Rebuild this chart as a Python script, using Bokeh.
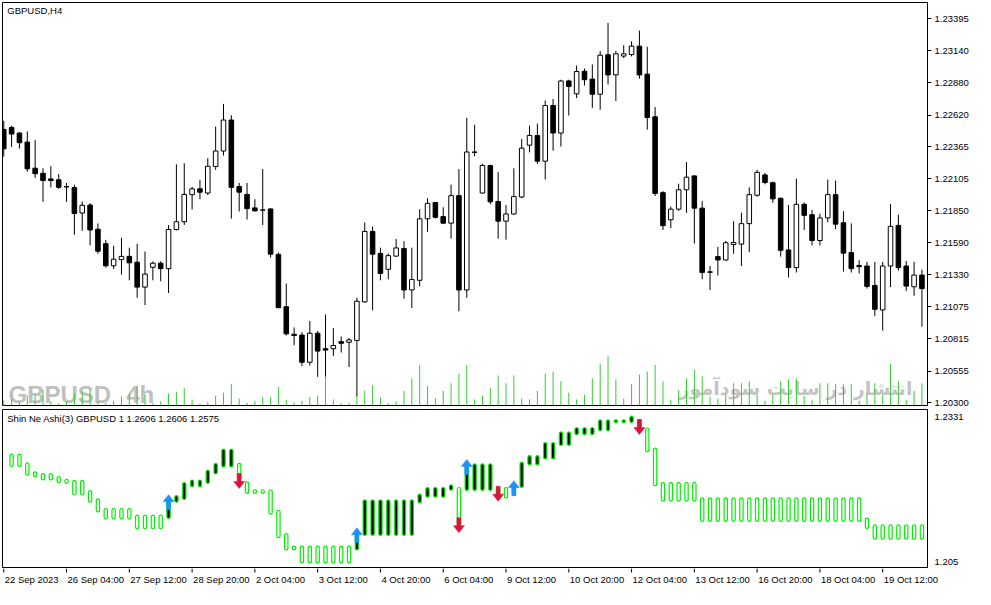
from bokeh.plotting import figure
from bokeh.models import Range1d, FixedTicker, PrintfTickFormatter, NumeralTickFormatter, Label
from bokeh.layouts import column
from bokeh.embed import file_html
from bokeh.resources import INLINE
from bokeh.core.properties import value

# ---------------- data: GBPUSD H4 candles (bar index 0..117) ----------------
opens = [1.22504, 1.22520, 1.22475, 1.22402, 1.22191, 1.22150, 1.22105, 1.22098, 1.22043, 1.22035,
         1.21830, 1.21894, 1.21699, 1.21582, 1.21404, 1.21454, 1.21480, 1.21433, 1.21232, 1.21392,
         1.21425, 1.21381, 1.21697, 1.21759, 1.21978, 1.22025, 1.21991, 1.22205, 1.22330, 1.22580,
         1.22043, 1.21980, 1.21871, 1.21855, 1.21863, 1.21496, 1.21074, 1.20852, 1.20845, 1.20626,
         1.20860, 1.20735, 1.20735, 1.20792, 1.20787, 1.20802, 1.21113, 1.21681, 1.21504, 1.21376,
         1.21482, 1.21543, 1.21209, 1.21287, 1.21783, 1.21915, 1.21801, 1.21748, 1.21970, 1.21209,
         1.22322, 1.21991, 1.22213, 1.21923, 1.21764, 1.21822, 1.21959, 1.22377, 1.22455, 1.22248,
         1.22697, 1.22475, 1.22895, 1.22791, 1.22973, 1.22910, 1.22788, 1.23106, 1.22944, 1.23096,
         1.23108, 1.23176, 1.22950, 1.22606, 1.21994, 1.21775, 1.21861, 1.22017, 1.22129, 1.21869,
         1.21355, 1.21478, 1.21451, 1.21576, 1.21579, 1.21744, 1.21973, 1.22137, 1.22074, 1.21949,
         1.21532, 1.21389, 1.21900, 1.21816, 1.21608, 1.21790, 1.21978, 1.21751, 1.21511, 1.21407,
         1.21402, 1.21246, 1.21048, 1.21402, 1.21730, 1.21402, 1.21235, 1.21329]
highs = [1.22574, 1.22535, 1.22483, 1.22488, 1.22418, 1.22191, 1.22207, 1.22144, 1.22072, 1.22059,
         1.21923, 1.21910, 1.21746, 1.21613, 1.21566, 1.21629, 1.21550, 1.21582, 1.21519, 1.21439,
         1.21441, 1.21733, 1.22223, 1.22230, 1.22041, 1.22098, 1.22272, 1.22527, 1.22710, 1.22619,
         1.22072, 1.22072, 1.21941, 1.22184, 1.21865, 1.21511, 1.21261, 1.20907, 1.20868, 1.20959,
         1.20878, 1.21011, 1.20902, 1.20834, 1.20821, 1.21146, 1.21754, 1.21722, 1.21550, 1.21504,
         1.21621, 1.21603, 1.21550, 1.21861, 1.21949, 1.21917, 1.21876, 1.22059, 1.22184, 1.22598,
         1.22541, 1.22228, 1.22220, 1.22160, 1.21894, 1.22191, 1.22426, 1.22535, 1.22551, 1.22738,
         1.22749, 1.22905, 1.22905, 1.23020, 1.22996, 1.23028, 1.23137, 1.23364, 1.23137, 1.23184,
         1.23215, 1.23301, 1.23171, 1.22684, 1.22006, 1.21881, 1.22066, 1.22241, 1.22135, 1.21926,
         1.21402, 1.21556, 1.21605, 1.21764, 1.21832, 1.22037, 1.22178, 1.22152, 1.22084, 1.21952,
         1.21894, 1.22108, 1.21915, 1.21855, 1.21824, 1.22100, 1.22092, 1.21845, 1.21746, 1.21449,
         1.21436, 1.21436, 1.21436, 1.21902, 1.21816, 1.21443, 1.21436, 1.21373]
lows = [1.22285, 1.22363, 1.22350, 1.22162, 1.22113, 1.21920, 1.22037, 1.22025, 1.21920, 1.21654,
        1.21686, 1.21568, 1.21501, 1.21389, 1.21379, 1.21334, 1.21287, 1.21146, 1.21087, 1.21287,
        1.21279, 1.21185, 1.21689, 1.21733, 1.21858, 1.21941, 1.21975, 1.22178, 1.22293, 1.21785,
        1.21842, 1.21777, 1.21842, 1.21733, 1.21470, 1.21063, 1.20842, 1.20763, 1.20594, 1.20599,
        1.20508, 1.20511, 1.20677, 1.20704, 1.20587, 1.20352, 1.21107, 1.21045, 1.21287, 1.21295,
        1.21478, 1.21139, 1.21064, 1.21238, 1.21678, 1.21787, 1.21740, 1.21623, 1.21037, 1.21146,
        1.22288, 1.21986, 1.21900, 1.21623, 1.21615, 1.21816, 1.21949, 1.22319, 1.22225, 1.22100,
        1.22332, 1.22366, 1.22616, 1.22756, 1.22858, 1.22678, 1.22663, 1.22866, 1.22733, 1.23080,
        1.23093, 1.22913, 1.22502, 1.21967, 1.21693, 1.21707, 1.21847, 1.21832, 1.21584, 1.21295,
        1.21209, 1.21326, 1.21447, 1.21501, 1.21402, 1.21514, 1.21962, 1.22061, 1.21912, 1.21478,
        1.21310, 1.21350, 1.21693, 1.21568, 1.21568, 1.21756, 1.21699, 1.21357, 1.21350, 1.21342,
        1.21220, 1.20998, 1.20881, 1.21232, 1.21365, 1.21201, 1.21162, 1.20912]
closes = [1.22348, 1.22467, 1.22397, 1.22186, 1.22147, 1.22092, 1.22092, 1.22037, 1.22040, 1.21826,
          1.21892, 1.21693, 1.21522, 1.21404, 1.21457, 1.21480, 1.21428, 1.21232, 1.21337, 1.21425,
          1.21381, 1.21697, 1.21759, 1.21980, 1.22025, 1.21998, 1.22207, 1.22330, 1.22580, 1.22037,
          1.21998, 1.21865, 1.21847, 1.21853, 1.21498, 1.21066, 1.20855, 1.20842, 1.20626, 1.20860,
          1.20716, 1.20724, 1.20761, 1.20779, 1.20806, 1.21118, 1.21681, 1.21498, 1.21342, 1.21486,
          1.21548, 1.21209, 1.21293, 1.21783, 1.21908, 1.21795, 1.21748, 1.21970, 1.21209, 1.22322,
          1.22319, 1.22213, 1.21920, 1.21764, 1.21822, 1.21962, 1.22353, 1.22455, 1.22248, 1.22697,
          1.22475, 1.22895, 1.22850, 1.22971, 1.22905, 1.22788, 1.23103, 1.22944, 1.23114, 1.23114,
          1.23176, 1.22944, 1.22600, 1.21988, 1.21728, 1.21861, 1.22017, 1.22119, 1.21869, 1.21350,
          1.21352, 1.21451, 1.21590, 1.21592, 1.21744, 1.21978, 1.22158, 1.22076, 1.21944, 1.21529,
          1.21389, 1.21900, 1.21811, 1.21608, 1.21790, 1.21978, 1.21740, 1.21506, 1.21381, 1.21397,
          1.21238, 1.21053, 1.21402, 1.21722, 1.21389, 1.21240, 1.21329, 1.21220]
volumes = [1060, 1340, 660, 2100, 2200, 3240, 900, 440, 840, 2460,
           2860, 3240, 900, 500, 1000, 1900, 2400, 4060, 2200, 460,
           840, 2440, 2840, 3640, 1240, 360, 660, 2040, 2640, 4440,
           1440, 600, 940, 1800, 1800, 3800, 1200, 660, 1000, 1760,
           2060, 6060, 1260, 460, 600, 2060, 3060, 4200, 1660, 460,
           800, 3000, 5600, 8400, 4000, 1460, 3000, 4600, 6600, 8400,
           1260, 2000, 3660, 6200, 4600, 6200, 1460, 1260, 3000, 6600,
           7000, 5060, 2660, 1260, 2200, 5600, 8600, 10200, 5400, 1400,
           4400, 6400, 7000, 8400, 5000, 1200, 3200, 5600, 7400, 6060,
           1800, 1400, 2200, 4600, 4600, 5000, 2200, 1000, 2200, 5000,
           5400, 5600, 2000, 1200, 4600, 4600, 4400, 4400, 4400, 1000,
           2600, 4600, 2200, 8600, 5000, 1200, 3000, 4600]

# ---------------- Shin Ne Ashi(3) boxes (bar index 1..117) ----------------
sna_top = [1.22588, 1.22588, 1.22418, 1.22244, 1.22212, 1.22212, 1.22155, 1.22099, 1.22080, 1.22080,
           1.21881, 1.21723, 1.21534, 1.21534, 1.21534, 1.21534, 1.21410, 1.21410, 1.21410, 1.21410,
           1.21692, 1.21787, 1.22037, 1.22087, 1.22087, 1.22276, 1.22407, 1.22682, 1.22682, 1.22407,
           1.22050, 1.21899, 1.21899, 1.21899, 1.21504, 1.21053, 1.20814, 1.20814, 1.20814, 1.20814,
           1.20814, 1.20814, 1.20814, 1.20814, 1.21059, 1.21704, 1.21704, 1.21704, 1.21704, 1.21704,
           1.21704, 1.21704, 1.21817, 1.21943, 1.21943, 1.21943, 1.21993, 1.21943, 1.22400, 1.22400,
           1.22400, 1.22400, 1.21943, 1.21943, 1.21993, 1.22432, 1.22558, 1.22558, 1.22808, 1.22808,
           1.23015, 1.23015, 1.23096, 1.23096, 1.23096, 1.23246, 1.23246, 1.23246, 1.23246, 1.23321,
           1.23259, 1.23090, 1.22701, 1.22042, 1.22042, 1.22042, 1.22042, 1.22042, 1.21741, 1.21741,
           1.21741, 1.21741, 1.21741, 1.21741, 1.21741, 1.21741, 1.21741, 1.21741, 1.21741, 1.21741,
           1.21741, 1.21741, 1.21741, 1.21741, 1.21741, 1.21741, 1.21741, 1.21741, 1.21741, 1.21354,
           1.21222, 1.21222, 1.21222, 1.21222, 1.21222, 1.21222, 1.21222]
sna_bottom = [1.22351, 1.22351, 1.22181, 1.22150, 1.22087, 1.22087, 1.22037, 1.22023, 1.21798, 1.21798,
              1.21660, 1.21472, 1.21335, 1.21335, 1.21335, 1.21335, 1.21147, 1.21147, 1.21147, 1.21147,
              1.21346, 1.21660, 1.21711, 1.21961, 1.21961, 1.22023, 1.22206, 1.22338, 1.22338, 1.22112,
              1.21830, 1.21830, 1.21830, 1.21429, 1.20978, 1.20739, 1.20739, 1.20489, 1.20489, 1.20489,
              1.20489, 1.20489, 1.20489, 1.20489, 1.20739, 1.21021, 1.21021, 1.21021, 1.21021, 1.21021,
              1.21021, 1.21021, 1.21647, 1.21755, 1.21755, 1.21755, 1.21892, 1.21147, 1.21886, 1.21886,
              1.21886, 1.21886, 1.21741, 1.21741, 1.21792, 1.21943, 1.22381, 1.22381, 1.22494, 1.22494,
              1.22757, 1.22757, 1.22964, 1.22964, 1.22964, 1.23039, 1.23039, 1.23197, 1.23197, 1.23197,
              1.23090, 1.22633, 1.21980, 1.21679, 1.21679, 1.21679, 1.21679, 1.21679, 1.21290, 1.21290,
              1.21290, 1.21290, 1.21290, 1.21290, 1.21290, 1.21290, 1.21290, 1.21290, 1.21290, 1.21290,
              1.21290, 1.21290, 1.21290, 1.21290, 1.21290, 1.21290, 1.21290, 1.21290, 1.21290, 1.21153,
              1.20946, 1.20946, 1.20946, 1.20946, 1.20946, 1.20946, 1.20946]
sna_up = [0, 0, 0, 0, 0, 0, 0, 0, 0, 0,
          0, 0, 0, 0, 0, 0, 0, 0, 0, 0,
          1, 1, 1, 1, 1, 1, 1, 1, 1, 0,
          0, 0, 0, 0, 0, 0, 0, 0, 0, 0,
          0, 0, 0, 0, 1, 1, 1, 1, 1, 1,
          1, 1, 1, 1, 1, 1, 1, 0, 1, 1,
          1, 1, 0, 0, 1, 1, 1, 1, 1, 1,
          1, 1, 1, 1, 1, 1, 1, 1, 1, 1,
          0, 0, 0, 0, 0, 0, 0, 0, 0, 0,
          0, 0, 0, 0, 0, 0, 0, 0, 0, 0,
          0, 0, 0, 0, 0, 0, 0, 0, 0, 0,
          0, 0, 0, 0, 0, 0, 0]
arrow_up_idx = [21, 45, 59, 65]
arrow_up_tip = [1.21805, 1.21166, 1.22482, 1.22074]
arrow_dn_idx = [30, 58, 63, 81]
arrow_dn_tip = [1.21924, 1.21072, 1.21679, 1.22964]

price_ticks = [1.23395, 1.23140, 1.22880, 1.22620, 1.22365, 1.22105, 1.21850,
               1.21590, 1.21330, 1.21075, 1.20815, 1.20555, 1.20300]
sna_ticks = [1.2331, 1.205]
date_tick_idx = [0, 8, 16, 24, 32, 40, 48, 56, 64, 72, 80, 88, 96, 104, 112]
date_labels = ["22 Sep 2023", "26 Sep 04:00", "27 Sep 12:00", "28 Sep 20:00", "2 Oct 04:00",
               "3 Oct 12:00", "4 Oct 20:00", "6 Oct 04:00", "9 Oct 12:00", "10 Oct 20:00",
               "12 Oct 04:00", "13 Oct 12:00", "16 Oct 20:00", "18 Oct 04:00", "19 Oct 12:00"]
watermark_text = ["GBPUSD", "4h"]
watermark_x = [0.6, 15.6]
watermark_fa = ["انتشار در سایت سودآموز"]

# ---------------- layout constants ----------------
FW = 925
FH_TOP = 403
FH_BOT = 158
X0, X1 = -0.16, 117.71
TOP_Y0, TOP_Y1 = 1.20277, 1.23528
BOT_Y0, BOT_Y1 = 1.20400, 1.23447
FONT = "Liberation Sans"
FS = "9.5px"

n = len(opens)
idx = list(range(n))
sna_x = list(range(1, 1 + len(sna_top)))

xr = Range1d(X0, X1)

# ---------------- main price panel ----------------
top = figure(frame_width=FW, frame_height=FH_TOP, x_range=xr, y_range=Range1d(TOP_Y0, TOP_Y1),
             x_axis_location=None, y_axis_location="right", output_backend="svg",
             toolbar_location=None, min_border_left=2, min_border_right=48,
             min_border_top=2, min_border_bottom=2)
top.grid.visible = False
top.outline_line_color = "black"
top.outline_line_alpha = 1.0
top.extra_y_ranges = {"vol": Range1d(0, 83200)}

# watermarks (under the volume lines)
top.text(x=watermark_x, y=[1.20365, 1.20365], text=watermark_text,
         text_font=value("Liberation Sans"), text_font_style="bold",
         text_font_size=value("24px"), text_color="#c0c0c0", text_baseline="alphabetic")
top.text(x=[115.8], y=[1.20420], text=watermark_fa, text_font=value("DejaVu Sans"),
         text_font_style="bold", text_font_size=value("19px"), text_color="#c4c4c4",
         text_align="right", text_baseline="alphabetic")

top.segment(x0=idx, y0=0, x1=idx, y1=volumes, y_range_name="vol",
            line_color="#32CD32", line_width=1)

top.segment(x0=idx, y0=lows, x1=idx, y1=highs, line_color="black", line_width=1)
body_top = [max(o, c) for o, c in zip(opens, closes)]
body_bot = [min(o, c) for o, c in zip(opens, closes)]
body_fill = ["white" if c >= o else "black" for o, c in zip(opens, closes)]
top.vbar(x=idx, width=0.58, top=body_top, bottom=body_bot, fill_color=body_fill,
         line_color="black", line_width=1)

top.add_layout(Label(x=0.45, y=1.23504, text="GBPUSD,H4", text_font=FONT, text_font_size=FS,
                     text_color="black", text_baseline="top"))

ya = top.yaxis[0]
ya.ticker = FixedTicker(ticks=price_ticks)
ya.formatter = PrintfTickFormatter(format="%.5f")
ya.major_tick_out = 4
ya.major_tick_in = 0
ya.minor_tick_out = 0
ya.minor_tick_in = 0
ya.major_label_standoff = 3
ya.major_label_text_font = FONT
ya.major_label_text_font_size = FS
ya.major_label_text_color = "black"
ya.axis_line_color = "black"

# ---------------- Shin Ne Ashi panel ----------------
bot = figure(frame_width=FW, frame_height=FH_BOT, x_range=xr, y_range=Range1d(BOT_Y0, BOT_Y1),
             x_axis_location=None, y_axis_location="right", output_backend="svg",
             toolbar_location=None, min_border_left=2, min_border_right=48,
             min_border_top=2, min_border_bottom=1)
bot.grid.visible = False
bot.outline_line_color = "black"
bot.outline_line_alpha = 1.0

sna_fill = ["black" if u else "white" for u in sna_up]
bot.vbar(x=sna_x, width=0.42, top=sna_top, bottom=sna_bottom, fill_color=sna_fill,
         line_color="#00F000", line_width=1.2, border_radius=2)

dxp = (X1 - X0) / FW
dyp = (BOT_Y1 - BOT_Y0) / FH_BOT
shape = [(0, 0), (5.5, -7), (2, -7), (2, -15), (-2, -15), (-2, -7), (-5.5, -7)]
up_xs = [[i + sx * dxp for sx, sy in shape] for i in arrow_up_idx]
up_ys = [[t + sy * dyp for sx, sy in shape] for t in arrow_up_tip]
dn_xs = [[i + sx * dxp for sx, sy in shape] for i in arrow_dn_idx]
dn_ys = [[t - sy * dyp for sx, sy in shape] for t in arrow_dn_tip]
bot.patches(xs=up_xs, ys=up_ys, fill_color="#1E90FF", line_color="#1E90FF", line_width=0.5)
bot.patches(xs=dn_xs, ys=dn_ys, fill_color="#DC143C", line_color="#DC143C", line_width=0.5)

bot.add_layout(Label(x=0.45, y=1.23375, text="Shin Ne Ashi(3) GBPUSD 1 1.2606 1.2606 1.2575",
                     text_font=FONT, text_font_size=FS, text_color="black", text_baseline="top"))

yb = bot.yaxis[0]
yb.ticker = FixedTicker(ticks=sna_ticks)
yb.formatter = NumeralTickFormatter(format="0.0[000]")
yb.major_tick_out = 0
yb.major_tick_in = 0
yb.minor_tick_out = 0
yb.minor_tick_in = 0
yb.major_label_standoff = 7
yb.major_label_text_font = FONT
yb.major_label_text_font_size = FS
yb.major_label_text_color = "black"
yb.axis_line_color = "black"

# ---------------- time axis strip ----------------
ppb = FW / (X1 - X0)
DW = FW + 44
dates = figure(frame_width=DW, frame_height=19, x_range=Range1d(X0, X0 + DW / ppb),
               y_range=Range1d(0, 19), x_axis_location=None, y_axis_location=None,
               output_backend="svg", toolbar_location=None, min_border_left=2,
               min_border_right=4, min_border_top=0, min_border_bottom=0)
dates.grid.visible = False
dates.outline_line_color = None
dates.segment(x0=date_tick_idx, y0=19, x1=date_tick_idx, y1=15, line_color="black", line_width=1)
dates.text(x=date_tick_idx, y=14, text=date_labels, text_align="left", text_baseline="top",
           text_font=value(FONT), text_font_size=value(FS), text_color="black", x_offset=1)

layout = column(top, bot, dates, spacing=0)
open("out.html", "w").write(file_html(layout, INLINE))
